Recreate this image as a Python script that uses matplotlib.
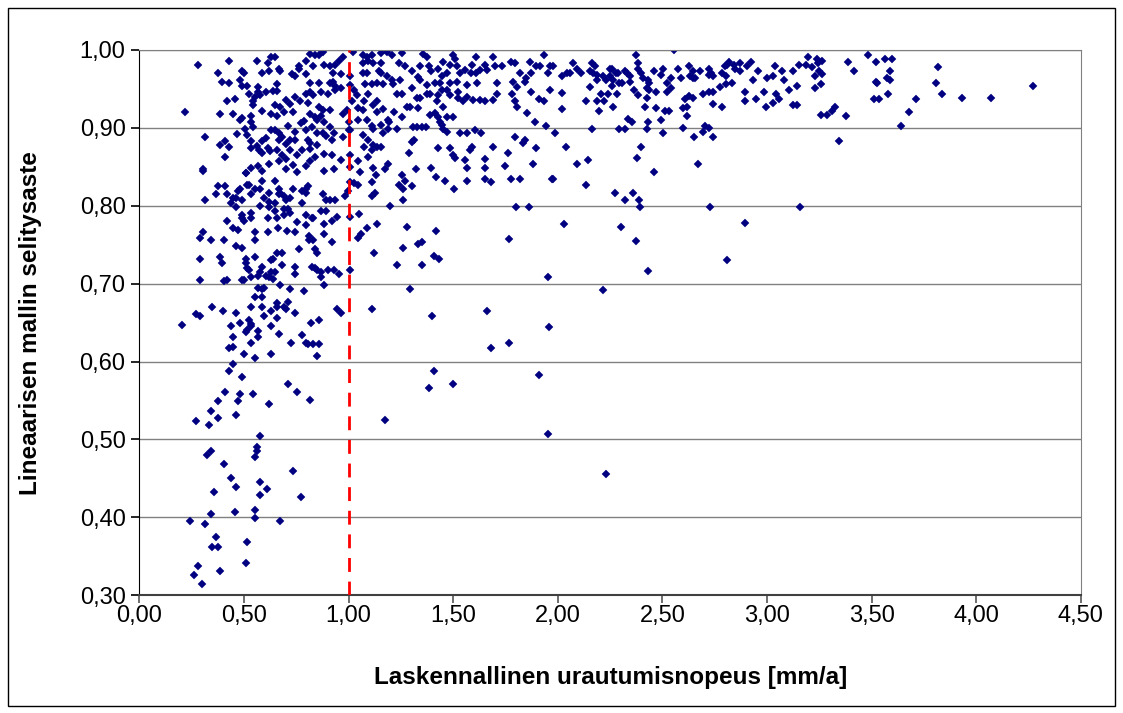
import matplotlib
matplotlib.use("Agg")
import matplotlib.pyplot as plt
from matplotlib.patches import Rectangle
from matplotlib.ticker import FuncFormatter, MultipleLocator

plt.rcParams["font.family"] = ["Liberation Sans", "DejaVu Sans"]

# (urautumisnopeus mm/a, selitysaste R2) pairs, grouped by area of the plot
low_left = [
    (0.560, 0.490), (0.560, 0.485), (0.552, 0.478), (0.340, 0.485), (0.323, 0.480),
    (0.402, 0.468), (0.735, 0.460), (0.436, 0.451), (0.576, 0.446), (0.463, 0.439),
    (0.358, 0.433), (0.611, 0.436), (0.576, 0.429), (0.770, 0.426), (0.340, 0.404),
    (0.455, 0.407), (0.550, 0.409), (0.550, 0.399), (0.243, 0.395), (0.313, 0.392),
    (0.673, 0.395), (0.367, 0.375), (0.348, 0.362), (0.375, 0.362), (0.515, 0.368),
    (0.280, 0.338), (0.507, 0.341), (0.260, 0.326), (0.385, 0.331), (0.297, 0.314),
]

mid_left = [
    (0.348, 0.670), (0.270, 0.661), (0.289, 0.659), (0.401, 0.665), (0.463, 0.663),
    (0.533, 0.670), (0.587, 0.670), (0.630, 0.665), (0.656, 0.675), (0.656, 0.670),
    (0.692, 0.670), (0.700, 0.668), (0.708, 0.676), (0.743, 0.663), (0.942, 0.668),
    (0.963, 0.663), (0.202, 0.647), (0.436, 0.646), (0.480, 0.649), (0.523, 0.653),
    (0.533, 0.648), (0.533, 0.646), (0.595, 0.659), (0.656, 0.656), (0.630, 0.646),
    (0.507, 0.638), (0.515, 0.641), (0.568, 0.639), (0.445, 0.632), (0.568, 0.632),
    (0.665, 0.636), (0.778, 0.634), (0.821, 0.649), (0.856, 0.653), (0.428, 0.617),
    (0.445, 0.619), (0.533, 0.624), (0.726, 0.624), (0.796, 0.624), (0.804, 0.622),
    (0.831, 0.622), (0.856, 0.622), (0.498, 0.610), (0.550, 0.605), (0.630, 0.610),
    (0.848, 0.607), (0.445, 0.597), (0.428, 0.588), (0.488, 0.580), (0.708, 0.571),
    (0.751, 0.561), (0.410, 0.561), (0.480, 0.558), (0.541, 0.558), (0.375, 0.549),
    (0.472, 0.549), (0.621, 0.546), (0.813, 0.551), (0.340, 0.536), (0.270, 0.524),
    (0.375, 0.527), (0.463, 0.531), (0.331, 0.519), (0.576, 0.504),
]

upper_left = [
    (0.305, 0.845), (0.507, 0.842), (0.367, 0.815), (0.375, 0.825), (0.410, 0.825),
    (0.420, 0.815), (0.313, 0.807), (0.445, 0.810), (0.463, 0.810), (0.436, 0.803),
    (0.480, 0.822), (0.472, 0.819), (0.488, 0.807), (0.515, 0.827), (0.523, 0.827),
    (0.533, 0.815), (0.550, 0.822), (0.576, 0.822), (0.585, 0.832), (0.595, 0.810),
    (0.621, 0.817), (0.621, 0.805), (0.648, 0.832), (0.665, 0.822), (0.665, 0.815),
    (0.673, 0.817), (0.692, 0.813), (0.700, 0.807), (0.719, 0.810), (0.735, 0.822),
    (0.778, 0.819), (0.796, 0.822), (0.805, 0.825), (0.796, 0.817), (0.875, 0.815),
    (0.894, 0.807), (0.910, 0.807), (0.937, 0.807), (0.982, 0.813), (0.998, 0.819),
    (1.006, 0.831), (1.025, 0.829), (1.043, 0.827), (0.463, 0.798), (0.488, 0.788),
    (0.488, 0.784), (0.498, 0.781), (0.533, 0.791), (0.533, 0.784), (0.576, 0.800),
    (0.621, 0.798), (0.648, 0.803), (0.648, 0.793), (0.656, 0.784), (0.692, 0.796),
    (0.692, 0.788), (0.708, 0.796), (0.718, 0.791), (0.751, 0.779), (0.778, 0.803),
    (0.796, 0.788), (0.823, 0.784), (0.831, 0.784), (0.796, 0.775), (0.866, 0.793),
    (0.893, 0.793), (0.918, 0.781), (0.942, 0.786), (1.006, 0.786), (0.420, 0.781),
    (0.445, 0.771), (0.472, 0.769), (0.613, 0.784), (0.662, 0.771), (0.707, 0.768),
    (0.743, 0.766), (0.883, 0.776), (0.883, 0.764), (0.550, 0.766), (0.613, 0.766),
    (0.305, 0.766), (0.288, 0.759), (0.340, 0.756), (0.402, 0.756), (0.550, 0.756),
    (0.812, 0.761), (0.812, 0.756), (0.831, 0.756), (0.918, 0.754), (1.043, 0.759),
    (0.463, 0.749), (0.488, 0.746), (0.656, 0.739), (0.682, 0.739), (0.761, 0.744),
    (0.840, 0.744), (0.848, 0.739), (0.288, 0.732), (0.385, 0.734), (0.393, 0.727),
    (0.507, 0.732), (0.550, 0.734), (0.630, 0.730), (0.638, 0.732), (0.507, 0.727),
    (0.585, 0.722), (0.515, 0.720), (0.523, 0.718), (0.682, 0.724), (0.743, 0.722),
    (0.823, 0.722), (0.840, 0.720), (0.848, 0.718), (0.866, 0.715), (0.901, 0.718),
    (0.928, 0.718), (0.953, 0.712), (1.006, 0.718), (0.630, 0.715), (0.648, 0.715),
    (0.743, 0.712), (0.576, 0.715), (0.568, 0.710), (0.603, 0.710), (0.621, 0.708),
    (0.638, 0.706), (0.866, 0.708), (0.288, 0.705), (0.402, 0.703), (0.420, 0.705),
    (0.488, 0.705), (0.498, 0.705), (0.533, 0.708), (0.568, 0.695), (0.585, 0.693),
    (0.595, 0.695), (0.673, 0.698), (0.718, 0.693), (0.788, 0.691), (0.883, 0.698),
    (0.550, 0.683), (0.585, 0.683),
]

top_left = [
    (0.280, 0.981), (0.429, 0.986), (0.560, 0.986), (0.613, 0.983), (0.630, 0.991),
    (0.648, 0.991), (0.665, 0.976), (0.673, 0.973), (0.621, 0.973), (0.585, 0.971),
    (0.490, 0.973), (0.498, 0.971), (0.377, 0.971), (0.393, 0.959), (0.429, 0.957),
    (0.480, 0.961), (0.490, 0.954), (0.515, 0.954), (0.525, 0.944), (0.568, 0.952),
    (0.568, 0.946), (0.603, 0.946), (0.578, 0.942), (0.542, 0.934), (0.542, 0.929),
    (0.552, 0.940), (0.455, 0.937), (0.420, 0.934), (0.217, 0.920), (0.385, 0.918),
    (0.445, 0.918), (0.490, 0.913), (0.480, 0.910), (0.533, 0.915), (0.533, 0.908),
    (0.585, 0.922), (0.630, 0.918), (0.656, 0.915), (0.648, 0.930), (0.673, 0.927),
    (0.656, 0.947), (0.656, 0.956), (0.640, 0.947), (0.700, 0.936), (0.718, 0.931),
    (0.690, 0.921), (0.735, 0.921), (0.708, 0.903), (0.743, 0.895), (0.761, 0.979),
    (0.761, 0.976), (0.727, 0.969), (0.744, 0.966), (0.796, 0.969), (0.794, 0.986),
    (0.815, 0.995), (0.838, 0.993), (0.875, 0.998), (0.858, 0.993), (0.831, 0.979),
    (0.883, 0.981), (0.910, 0.979), (0.937, 0.981), (0.955, 0.986), (0.974, 0.991),
    (1.023, 0.998), (0.926, 0.971), (0.963, 0.969), (1.006, 0.967), (0.815, 0.957),
    (0.858, 0.957), (0.910, 0.957), (0.926, 0.959), (0.937, 0.954), (0.815, 0.946),
    (0.796, 0.944), (0.831, 0.942), (0.866, 0.946), (0.902, 0.944), (0.937, 0.949),
    (0.963, 0.951), (1.006, 0.955), (1.025, 0.949), (1.041, 0.942), (1.018, 0.934),
    (0.768, 0.934), (0.743, 0.940), (0.804, 0.932), (0.858, 0.927), (0.875, 0.923),
    (0.910, 0.923), (0.815, 0.918), (0.839, 0.914), (0.866, 0.915), (0.973, 0.918),
    (0.990, 0.923), (1.043, 0.925), (0.788, 0.909), (0.850, 0.910), (0.883, 0.908),
    (0.910, 0.901), (0.928, 0.894), (1.000, 0.908), (1.006, 0.897), (1.043, 0.910),
    (0.313, 0.888), (0.385, 0.878), (0.410, 0.883), (0.429, 0.876), (0.464, 0.892),
    (0.515, 0.891), (0.506, 0.899), (0.542, 0.901), (0.533, 0.883), (0.560, 0.877),
    (0.585, 0.883), (0.603, 0.887), (0.630, 0.897), (0.648, 0.897), (0.665, 0.893),
    (0.665, 0.885), (0.682, 0.888), (0.700, 0.879), (0.719, 0.884), (0.744, 0.885),
    (0.770, 0.906), (0.796, 0.897), (0.823, 0.901), (0.848, 0.893), (0.875, 0.894),
    (0.894, 0.889), (0.920, 0.884), (0.973, 0.888), (1.000, 0.897), (0.804, 0.884),
    (0.815, 0.880), (0.848, 0.878), (0.534, 0.874), (0.570, 0.872), (0.585, 0.868),
    (0.613, 0.874), (0.624, 0.870), (0.656, 0.872), (0.681, 0.865), (0.719, 0.872),
    (0.751, 0.865), (0.778, 0.872), (0.815, 0.873), (0.840, 0.863), (0.883, 0.867),
    (0.920, 0.865), (1.006, 0.865), (0.305, 0.847), (0.410, 0.863), (0.507, 0.842),
    (0.533, 0.848), (0.568, 0.851), (0.585, 0.845), (0.621, 0.854), (0.665, 0.857),
    (0.700, 0.860), (0.700, 0.847), (0.735, 0.852), (0.753, 0.844), (0.796, 0.851),
    (0.815, 0.857), (0.883, 0.845), (0.928, 0.847), (1.006, 0.850), (1.043, 0.857),
    (0.963, 0.859),
]

top_mid = [
    (1.070, 0.993), (1.086, 0.991), (1.110, 0.993), (1.094, 0.986), (1.070, 0.983),
    (1.118, 0.983), (1.153, 0.996), (1.181, 0.998), (1.205, 0.993), (1.253, 0.996),
    (1.242, 0.983), (1.156, 0.983), (1.145, 0.973), (1.153, 0.970), (1.134, 0.957),
    (1.110, 0.956), (1.078, 0.956), (1.070, 0.970), (1.086, 0.970), (1.166, 0.956),
    (1.181, 0.966), (1.205, 0.961), (1.245, 0.961), (1.213, 0.956), (1.269, 0.979),
    (1.301, 0.973), (1.341, 0.979), (1.357, 0.995), (1.373, 0.991), (1.385, 0.979),
    (1.396, 0.973), (1.425, 0.976), (1.452, 0.985), (1.484, 0.981), (1.500, 0.993),
    (1.508, 0.989), (1.516, 0.979), (1.468, 0.970), (1.444, 0.967), (1.436, 0.957),
    (1.330, 0.965), (1.341, 0.961), (1.376, 0.955), (1.412, 0.957), (1.484, 0.957),
    (1.516, 0.959), (1.532, 0.970), (1.556, 0.974), (1.592, 0.981), (1.611, 0.991),
    (1.651, 0.981), (1.688, 0.991), (1.699, 0.979), (1.659, 0.974), (1.627, 0.974),
    (1.608, 0.970), (1.583, 0.970), (1.615, 0.957), (1.564, 0.955), (1.524, 0.946),
    (1.471, 0.949), (1.444, 0.949), (1.428, 0.942), (1.420, 0.934), (1.452, 0.927),
    (1.484, 0.942), (1.524, 0.938), (1.548, 0.934), (1.564, 0.940), (1.596, 0.936),
    (1.627, 0.936), (1.651, 0.934), (1.691, 0.936), (1.707, 0.944), (1.707, 0.957),
    (1.734, 0.979), (1.776, 0.985), (1.795, 0.983), (1.819, 0.971), (1.787, 0.959),
    (1.850, 0.964), (1.866, 0.985), (1.874, 0.970), (1.898, 0.979), (1.914, 0.979),
    (1.933, 0.994), (1.962, 0.979), (1.954, 0.970), (1.978, 0.979), (2.018, 0.966),
    (2.046, 0.971), (2.018, 0.945), (1.962, 0.949), (1.933, 0.935), (1.911, 0.937),
    (1.874, 0.946), (1.843, 0.959), (1.803, 0.953), (1.779, 0.944), (1.795, 0.934),
    (1.803, 0.927), (1.854, 0.919), (1.890, 0.908), (1.943, 0.902), (2.022, 0.924),
    (2.038, 0.876), (1.986, 0.893), (1.898, 0.874), (1.843, 0.884), (1.835, 0.880),
    (1.795, 0.888), (1.763, 0.868), (1.882, 0.853), (1.747, 0.851), (1.651, 0.849),
    (1.651, 0.860), (1.688, 0.876), (1.635, 0.893), (1.603, 0.897), (1.564, 0.893),
    (1.532, 0.893), (1.588, 0.876), (1.580, 0.872), (1.556, 0.859), (1.564, 0.848),
    (1.500, 0.865), (1.508, 0.861), (1.484, 0.874), (1.425, 0.874), (1.468, 0.895),
    (1.452, 0.899), (1.436, 0.908), (1.444, 0.904), (1.428, 0.914), (1.468, 0.914),
    (1.500, 0.914), (1.412, 0.919), (1.389, 0.917), (1.369, 0.901), (1.349, 0.901),
    (1.328, 0.901), (1.306, 0.901), (1.312, 0.884), (1.301, 0.882), (1.287, 0.868),
    (1.393, 0.848), (1.322, 0.847), (1.253, 0.839), (1.229, 0.899), (1.189, 0.899),
    (1.194, 0.908), (1.216, 0.921), (1.253, 0.914), (1.277, 0.927), (1.293, 0.927),
    (1.229, 0.944), (1.253, 0.944), (1.301, 0.951), (1.325, 0.938), (1.341, 0.938),
    (1.373, 0.944), (1.389, 0.944), (1.330, 0.925), (1.134, 0.921), (1.118, 0.929),
    (1.094, 0.944), (1.073, 0.934), (1.134, 0.934), (1.166, 0.924), (1.070, 0.923),
    (1.086, 0.910), (1.110, 0.902), (1.118, 0.899), (1.166, 0.893), (1.153, 0.904),
    (1.189, 0.910), (1.067, 0.891), (1.094, 0.885), (1.073, 0.876), (1.110, 0.872),
    (1.134, 0.876), (1.118, 0.878), (1.153, 0.876), (1.091, 0.863), (1.054, 0.844),
    (1.118, 0.849), (1.173, 0.847), (1.189, 0.853),
    (1.130, 0.839), (1.417, 0.837), (1.653, 0.834), (1.776, 0.834), (1.820, 0.834),
    (1.978, 0.834), (1.970, 0.834),
]

lower_mid = [
    (1.111, 0.830), (1.111, 0.813), (1.127, 0.817), (1.242, 0.827), (1.258, 0.822),
    (1.269, 0.832), (1.304, 0.825), (1.462, 0.832), (1.505, 0.822), (1.565, 0.832),
    (1.680, 0.830), (1.259, 0.808), (1.197, 0.800), (1.049, 0.790), (1.137, 0.776),
    (1.086, 0.771), (1.059, 0.764), (1.277, 0.773), (1.417, 0.768), (1.119, 0.739),
    (1.258, 0.746), (1.330, 0.751), (1.349, 0.754), (1.408, 0.736), (1.433, 0.732),
    (1.232, 0.724), (1.349, 0.724), (1.801, 0.798), (1.863, 0.798), (2.030, 0.776),
    (1.768, 0.758), (1.951, 0.709), (1.295, 0.693), (1.111, 0.668), (1.400, 0.659),
    (1.661, 0.665), (1.959, 0.644), (1.768, 0.624), (1.680, 0.617), (1.409, 0.588),
    (1.382, 0.566), (1.497, 0.571), (1.908, 0.583), (1.172, 0.525), (1.955, 0.507),
]

top_right = [
    (2.074, 0.983), (2.093, 0.976), (2.109, 0.971), (2.058, 0.971), (2.161, 0.983),
    (2.177, 0.979), (2.153, 0.973), (2.169, 0.970), (2.185, 0.968), (2.188, 0.961),
    (2.214, 0.966), (2.228, 0.961), (2.249, 0.975), (2.257, 0.975), (2.249, 0.966),
    (2.265, 0.961), (2.278, 0.971), (2.289, 0.971), (2.257, 0.954), (2.293, 0.958),
    (2.309, 0.958), (2.321, 0.973), (2.329, 0.970), (2.345, 0.966), (2.345, 0.959),
    (2.373, 0.993), (2.381, 0.983), (2.381, 0.976), (2.397, 0.971), (2.408, 0.964),
    (2.432, 0.961), (2.434, 0.958), (2.364, 0.949), (2.381, 0.942), (2.424, 0.951),
    (2.434, 0.949), (2.424, 0.939), (2.459, 0.973), (2.494, 0.968), (2.504, 0.976),
    (2.521, 0.958), (2.539, 0.964), (2.556, 1.000), (2.575, 0.976), (2.590, 0.964),
    (2.627, 0.979), (2.634, 0.966), (2.644, 0.964), (2.655, 0.964), (2.647, 0.973),
    (2.679, 0.973), (2.722, 0.976), (2.732, 0.971), (2.722, 0.968), (2.740, 0.966),
    (2.775, 0.952), (2.783, 0.970), (2.800, 0.979), (2.810, 0.981), (2.802, 0.966),
    (2.802, 0.956), (2.818, 0.985), (2.843, 0.981), (2.845, 0.976), (2.870, 0.983),
    (2.870, 0.973), (2.835, 0.958), (2.905, 0.979), (2.923, 0.985), (2.931, 0.961),
    (2.958, 0.973), (2.897, 0.946), (2.897, 0.934), (2.948, 0.937), (2.985, 0.946),
    (2.993, 0.927), (3.002, 0.964), (3.030, 0.967), (3.038, 0.979), (3.045, 0.944),
    (3.055, 0.937), (3.030, 0.932), (3.073, 0.973), (3.081, 0.961), (3.106, 0.949),
    (3.125, 0.973), (3.125, 0.929), (3.143, 0.929), (3.143, 0.954), (3.151, 0.981),
    (3.186, 0.981), (3.194, 0.991), (3.213, 0.978), (3.229, 0.966), (3.237, 0.988),
    (3.245, 0.983), (3.249, 0.973), (3.264, 0.986), (3.264, 0.969), (3.256, 0.956),
    (3.229, 0.951), (3.257, 0.917), (3.289, 0.917), (3.313, 0.922), (3.326, 0.927),
    (3.345, 0.883), (2.153, 0.952), (2.206, 0.944), (2.241, 0.944), (2.284, 0.944),
    (2.223, 0.934), (2.188, 0.934), (2.196, 0.922), (2.265, 0.927), (2.134, 0.934),
    (2.293, 0.898), (2.321, 0.898), (2.337, 0.912), (2.354, 0.908), (2.416, 0.927),
    (2.432, 0.908), (2.424, 0.898), (2.469, 0.925), (2.494, 0.910), (2.512, 0.922),
    (2.531, 0.922), (2.521, 0.946), (2.539, 0.951), (2.469, 0.946), (2.504, 0.893),
    (2.599, 0.900), (2.599, 0.925), (2.617, 0.927), (2.609, 0.937), (2.625, 0.941),
    (2.644, 0.939), (2.617, 0.915), (2.652, 0.888), (2.695, 0.944), (2.722, 0.946),
    (2.740, 0.946), (2.740, 0.931), (2.783, 0.927), (2.695, 0.895), (2.704, 0.902),
    (2.722, 0.900), (2.740, 0.888), (2.397, 0.876), (2.380, 0.861), (2.459, 0.844),
    (2.668, 0.854), (2.134, 0.827), (2.144, 0.859), (2.090, 0.853), (2.161, 0.898),
]

far_right = [
    (3.379, 0.915), (3.389, 0.985), (3.414, 0.973), (3.484, 0.993), (3.519, 0.985),
    (3.511, 0.937), (3.537, 0.937), (3.519, 0.959), (3.527, 0.957), (3.564, 0.988),
    (3.599, 0.988), (3.589, 0.973), (3.572, 0.964), (3.589, 0.961), (3.580, 0.944),
    (3.642, 0.903), (3.677, 0.920), (3.712, 0.937), (3.817, 0.978), (3.808, 0.957),
    (3.835, 0.944), (3.930, 0.939), (4.069, 0.939), (4.271, 0.954),
]

lower_right = [
    (3.160, 0.799), (2.728, 0.799), (2.896, 0.778), (2.810, 0.731), (2.433, 0.716),
    (2.372, 0.755), (2.300, 0.773), (2.272, 0.817), (2.360, 0.817), (2.320, 0.807),
    (2.389, 0.808), (2.395, 0.799), (2.214, 0.692), (2.231, 0.456),
]

groups = [low_left, mid_left, upper_left, top_left, top_mid, lower_mid,
          top_right, far_right, lower_right]
rate = [p[0] for g in groups for p in g]
r2 = [p[1] for g in groups for p in g]

fig = plt.figure(figsize=(11.23, 7.13), dpi=100)
ax = fig.add_axes([0.1242, 0.1651, 0.8382, 0.7648])

ax.plot(rate, r2, linestyle="none", marker="D", markersize=3.6,
        color="#000080", markeredgewidth=0.3, markeredgecolor="#000080")
ax.plot([1.0, 1.0], [0.30, 1.00], color="#ff0000", lw=2.0,
        linestyle=(0, (5, 3.5)), zorder=3)

ax.set_xlim(0, 4.5)
ax.set_ylim(0.30, 1.00)
ax.xaxis.set_major_locator(MultipleLocator(0.5))
ax.yaxis.set_major_locator(MultipleLocator(0.1))
fmt = FuncFormatter(lambda v, _: f"{v:.2f}".replace(".", ","))
ax.xaxis.set_major_formatter(fmt)
ax.yaxis.set_major_formatter(fmt)
ax.grid(axis="y", color="#808080", lw=1.0)
ax.set_axisbelow(True)

for side in ("top", "right"):
    ax.spines[side].set_color("#808080")
ax.spines["left"].set_color("black")
ax.spines["bottom"].set_color("#404040")
ax.spines["bottom"].set_linewidth(1.5)
ax.tick_params(direction="out", length=6, width=1.2, labelsize=17,
               colors="black")
ax.tick_params(axis="x", colors="#555555", labelcolor="black", pad=1)
ax.tick_params(axis="y", pad=4)

ax.set_xlabel("Laskennallinen urautumisnopeus [mm/a]", fontsize=17.5,
              fontweight="bold", va="center")
ax.set_ylabel("Lineaarisen mallin selitysaste", fontsize=17.5,
              fontweight="bold", va="center")
ax.xaxis.set_label_coords(0.5, -0.15)
ax.yaxis.set_label_coords(-0.116, 0.5)

fig.patches.append(Rectangle((8 / 1123, 7 / 713), 1107 / 1123, 698 / 713,
                             transform=fig.transFigure, fill=False,
                             edgecolor="black", lw=1.0))

fig.savefig("out.png", dpi=100)
